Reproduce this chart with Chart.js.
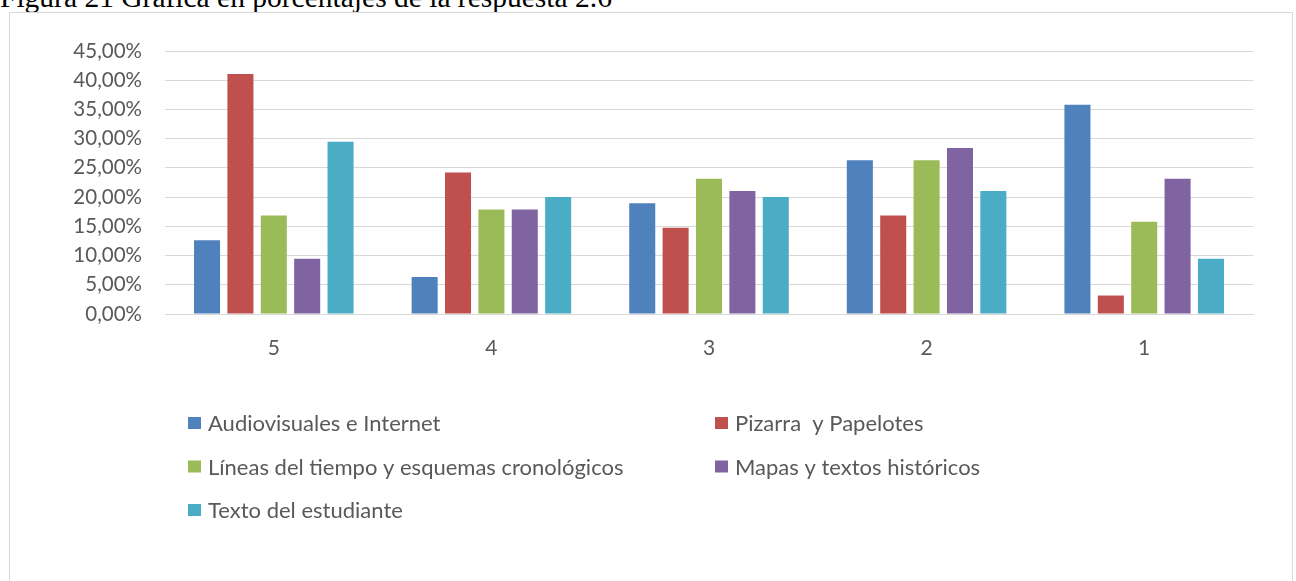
<!DOCTYPE html>
<html lang="es">
<head>
<meta charset="utf-8">
<title>Figura 21</title>
<script src="https://cdn.jsdelivr.net/npm/chart.js@4.4.0/dist/chart.umd.min.js"></script>
<style>
  html, body { margin: 0; padding: 0; background: #fff; overflow: hidden; }
  body { width: 1296px; height: 581px; position: relative; }
  #titulo {
    position: absolute; left: 0; top: -17px;
    font-family: "Liberation Serif", "Times New Roman", serif;
    font-size: 29.5px; line-height: 29.5px; color: #000; white-space: nowrap;
  }
  #marco {
    position: absolute; left: 9px; top: 12px; width: 1284px; height: 640px;
    border: 1px solid #d9d9d9; box-sizing: border-box; background: #fff;
  }
  #caja { position: absolute; left: 10px; top: 13px; width: 1282px; height: 568px; }
</style>
</head>
<body>
<div id="titulo">Figura 21 Gráfica en porcentajes de la respuesta 2.6</div>
<div id="marco"></div>
<div id="caja"><canvas id="grafica"></canvas></div>
<script>
// ---------- DATOS ----------
const categorias = ['5', '4', '3', '2', '1'];
const audiovisuales = [12.63, 6.32, 18.95, 26.32, 35.79];
const pizarra = [41.05, 24.21, 14.74, 16.84, 3.16];
const lineasTiempo = [16.84, 17.89, 23.16, 26.32, 15.79];
const mapasTextos = [9.47, 17.89, 21.05, 28.42, 23.16];
const textoEstudiante = [29.47, 20.00, 20.00, 21.05, 9.47];
const nombresSeries = [
    'Audiovisuales e Internet',
    'Pizarra  y Papelotes',
    'Líneas del tiempo y esquemas cronológicos',
    'Mapas y textos históricos',
    'Texto del estudiante'
];
const colores = ['#4f81bd', '#c0504d', '#9bbb59', '#8064a2', '#4bacc6'];
const ejeMax = 45;
const ejePaso = 5;

const fuente = 'Lato, "Open Sans", sans-serif';
const gris = '#595959';

// ---------- LEYENDA EN DOS COLUMNAS ----------
const leyendaColumnas = {
    id: 'leyendaColumnas',
    afterDraw(chart) {
        const ctx = chart.ctx;
        const colX = [178, 705];
        const filaY = [410, 453.5, 497];
        ctx.save();
        ctx.font = '22px ' + fuente;
        ctx.textBaseline = 'middle';
        ctx.textAlign = 'left';
        chart.data.datasets.forEach((ds, i) => {
            const x = colX[i % 2];
            const y = filaY[Math.floor(i / 2)];
            ctx.fillStyle = ds.backgroundColor;
            ctx.fillRect(x, y - 6, 13, 12);
            ctx.fillStyle = gris;
            ctx.fillText(ds.label, x + 20, y + 1);
        });
        ctx.restore();
    }
};

// ---------- GRÁFICA ----------
const series = [audiovisuales, pizarra, lineasTiempo, mapasTextos, textoEstudiante];

new Chart(document.getElementById('grafica'), {
    type: 'bar',
    data: {
        labels: categorias,
        datasets: series.map((valores, i) => ({
            label: nombresSeries[i],
            data: valores,
            backgroundColor: colores[i],
            borderWidth: 0,
            categoryPercentage: 0.767,
            barPercentage: 0.78
        }))
    },
    options: {
        responsive: true,
        maintainAspectRatio: false,
        animation: false,
        layout: { padding: { left: 0, right: 39, top: 38, bottom: 217 } },
        plugins: {
            legend: { display: false },
            tooltip: { enabled: false }
        },
        scales: {
            x: {
                grid: { display: false, drawTicks: false },
                border: { display: true, color: '#d9d9d9', width: 1 },
                ticks: { color: gris, padding: 22, font: { family: fuente, size: 21 } },
                afterFit(scale) { scale.height = 50; }
            },
            y: {
                min: 0,
                max: ejeMax,
                grid: { color: '#d9d9d9', lineWidth: 1, drawTicks: false },
                border: { display: false },
                ticks: {
                    stepSize: ejePaso,
                    color: gris,
                    padding: 23,
                    font: { family: fuente, size: 20.5 },
                    callback: v => v.toFixed(2).replace('.', ',') + '%'
                },
                afterFit(scale) { scale.width = 155; }
            }
        }
    },
    plugins: [leyendaColumnas]
});
</script>
</body>
</html>
